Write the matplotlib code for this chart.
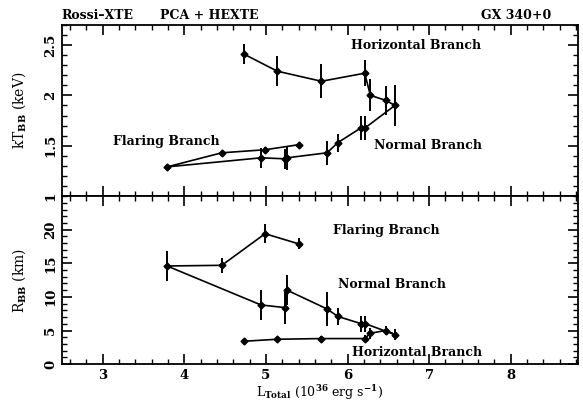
import matplotlib
matplotlib.use("Agg")
import matplotlib.pyplot as plt
from matplotlib.ticker import MultipleLocator

# GX 340+0 Z-track: horizontal -> normal -> flaring branch
lum = [4.73, 5.14, 5.68, 6.21, 6.28, 6.47, 6.58,
       6.22, 6.17, 5.88, 5.75, 5.26, 5.24, 4.94, 3.79,
       4.46, 4.99, 5.40]
kt = [2.41, 2.24, 2.14, 2.22, 2.00, 1.95, 1.90,
      1.68, 1.68, 1.53, 1.43, 1.38, 1.37, 1.38, 1.29,
      1.43, 1.46, 1.51]
kt_err = [0.10, 0.15, 0.17, 0.13, 0.16, 0.14, 0.20,
          0.12, 0.12, 0.09, 0.12, 0.12, 0.10, 0.10, 0.02,
          0.02, 0.03, 0.01]
rbb = [3.4, 3.7, 3.8, 3.8, 4.6, 5.0, 4.4,
       6.0, 6.0, 7.1, 8.2, 11.0, 8.4, 8.8, 14.6,
       14.7, 19.4, 17.9]
rbb_err = [0.3, 0.3, 0.4, 0.5, 0.8, 0.7, 0.8,
           1.2, 1.2, 1.3, 2.5, 2.2, 2.5, 2.2, 2.2,
           1.1, 1.4, 0.8]

plt.rcParams.update({
    "font.family": "DejaVu Serif",
    "font.weight": "bold",
    "mathtext.default": "bf",
    "mathtext.fontset": "dejavuserif",
    "axes.linewidth": 1.3,
})

fig = plt.figure(figsize=(5.83, 4.01), dpi=100)
ax1 = fig.add_axes([0.106, 0.511, 0.885, 0.427])
ax2 = fig.add_axes([0.106, 0.092, 0.885, 0.419], sharex=ax1)

style = dict(fmt="-", color="black", marker="D", ms=3.5, lw=1.2,
             elinewidth=1.4, capsize=0)
ax1.errorbar(lum, kt, yerr=kt_err, **style)
ax2.errorbar(lum, rbb, yerr=rbb_err, **style)

ax1.set_xlim(2.5, 8.82)
ax1.set_ylim(1, 2.7)
ax2.set_ylim(0, 25)
ax1.set_yticks([1, 1.5, 2, 2.5])
ax1.set_yticklabels(["1", "1.5", "2", "2.5"])
ax2.set_yticks([0, 5, 10, 15, 20])
ax1.xaxis.set_minor_locator(MultipleLocator(0.2))
ax1.yaxis.set_minor_locator(MultipleLocator(0.1))
ax2.yaxis.set_minor_locator(MultipleLocator(1))

for ax in (ax1, ax2):
    ax.tick_params(which="both", direction="in", top=True, right=True,
                   labelsize=9.5)
    ax.tick_params(which="major", length=7, width=1.2)
    ax.tick_params(which="minor", length=3.5, width=1)
    for lab in ax.get_yticklabels():
        lab.set_rotation(90)
        lab.set_va("center")
ax1.tick_params(labelbottom=False)

ax1.set_ylabel(r"kT$_{\rm BB}$ (keV)", fontsize=10)
ax2.set_ylabel(r"R$_{\rm BB}$ (km)", fontsize=10)
ax2.set_xlabel(r"L$_{\rm Total}$ (10$^{36}$ erg s$^{-1}$)", fontsize=9)
ax2.xaxis.set_label_coords(0.5, -0.115)
ax1.yaxis.set_label_coords(-0.065, 0.5)
ax2.yaxis.set_label_coords(-0.065, 0.5)

tk = dict(fontsize=9, ha="center", va="center")
ax1.text(6.84, 2.50, "Horizontal Branch", **tk)
ax1.text(3.78, 1.54, "Flaring Branch", **tk)
ax1.text(6.99, 1.50, "Normal Branch", **tk)
ax2.text(6.48, 19.9, "Flaring Branch", **tk)
ax2.text(6.54, 11.9, "Normal Branch", **tk)
ax2.text(6.85, 1.8, "Horizontal Branch", **tk)

fig.text(0.106, 0.962, "Rossi\u2013XTE", fontsize=9, va="center")
fig.text(0.275, 0.962, "PCA + HEXTE", fontsize=9, va="center")
fig.text(0.945, 0.962, "GX 340+0", fontsize=9, va="center", ha="right")

fig.savefig("out.png", dpi=100)
